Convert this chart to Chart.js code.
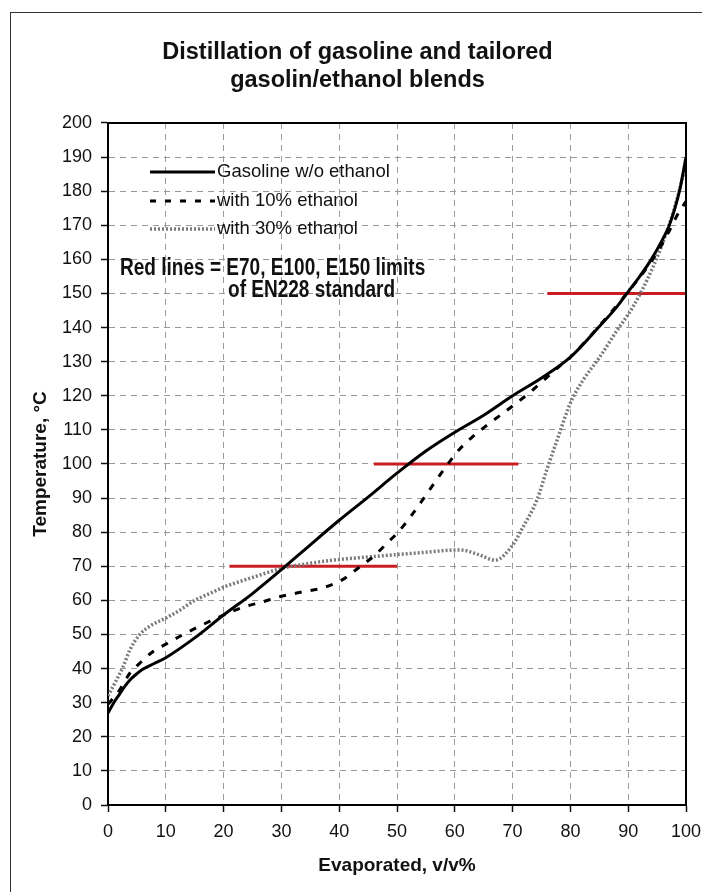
<!DOCTYPE html>
<html>
<head>
<meta charset="utf-8">
<script src="https://cdn.jsdelivr.net/npm/chart.js@4"></script>
<style>
    html, body { margin: 0; padding: 0; background: #fff; overflow: hidden; }
    #frame { position: absolute; left: 10px; top: 12px; width: 800px; height: 1000px; border: 1.5px solid #333; }
    #chart { position: absolute; left: 0; top: 0; }
</style>
</head>
<body>
<div id="frame"></div>
<canvas id="chart" width="702" height="892"></canvas>
<script>
// Gasoline without ethanol
const evapGasoline = [0, 1, 2, 3, 4, 5, 6, 8, 10, 15, 20, 25, 30, 35, 40, 45, 50, 55, 60, 65, 70, 75, 80, 85, 88, 90, 92, 94, 96, 97, 98, 99, 100];
const tempGasoline = [27, 30, 32.5, 35, 37, 38.5, 39.8, 41.5, 43.2, 49, 55.7, 62, 69, 76.3, 83.5, 90.3, 97.3, 103.8, 109.3, 114.3, 120, 125.2, 131.3, 140.3, 146, 150.5, 155, 160, 166, 169.5, 174.5, 181, 190];

// with 10% ethanol
const evapE10 = [0, 2, 3.8, 5.5, 7.8, 10.4, 13, 16.3, 18.8, 23.4, 26.6, 30, 33.7, 37, 40.5, 43.3, 46, 48.3, 50.5, 52.8, 56.2, 58.3, 60.4, 63, 65.6, 70, 73, 76, 78, 80, 85, 90, 93, 95, 97, 98.5, 100];
const tempE10 = [29.5, 33.7, 38.7, 41.6, 45, 47.5, 50, 52.8, 54.8, 58, 59.5, 61.2, 62.5, 63.6, 66, 69.5, 73, 76.8, 80.6, 85.6, 93.8, 98.8, 103.5, 107.9, 111.4, 117, 121, 125.5, 128.5, 131.3, 140.5, 150.5, 157, 162, 168, 173, 177];

// with 30% ethanol
const evapE30 = [0, 1.2, 2.6, 3.8, 5.5, 7.3, 10.2, 12.5, 15, 17.6, 20.2, 24.6, 30.3, 33.2, 39, 44.8, 53.5, 60.9, 64, 67, 70, 71.8, 74.2, 75.9, 77.9, 80, 82.2, 85.1, 88, 90.8, 94.3, 97.2, 98.5, 100];
const tempE30 = [32, 35.8, 40.5, 45.5, 50, 52.5, 55, 57.2, 60, 62, 64, 66.5, 69.5, 70.4, 71.8, 72.7, 73.9, 74.8, 73.5, 71.8, 76.2, 81.5, 89.4, 98.2, 108, 117.9, 124.6, 131.4, 139, 146, 157.8, 170.7, 178, 188];

// EN228 limits (red lines)
const limitTemps = [70, 100, 150];
const limitFrom = [21, 46, 76];
const limitTo = [50, 71, 100];

const xTicks = [0, 10, 20, 30, 40, 50, 60, 70, 80, 90, 100];
const yTicks = [];
for (let t = 0; t <= 200; t += 10) yTicks.push(t);

const titleLines = ['Distillation of gasoline and tailored', 'gasolin/ethanol blends'];
const legendLabels = ['Gasoline w/o ethanol', 'with 10% ethanol', 'with 30% ethanol'];
const noteLines = ['Red lines = E70, E100, E150 limits', 'of EN228 standard'];

const toPoints = (xs, ys) => xs.map((x, i) => ({ x: x, y: ys[i] }));

const SANS = "'Liberation Sans', Arial, sans-serif";

const lineStyles = [
    { color: '#000', width: 3, dash: [] },
    { color: '#000', width: 3, dash: [7, 9] },
    { color: '#7a7a7a', width: 3.5, dash: [2, 2] }
];

const datasets = [
    { data: toPoints(evapGasoline, tempGasoline) },
    { data: toPoints(evapE10, tempE10) },
    { data: toPoints(evapE30, tempE30) }
].map((d, i) => Object.assign(d, {
    label: legendLabels[i],
    borderColor: lineStyles[i].color,
    borderWidth: lineStyles[i].width,
    borderDash: lineStyles[i].dash,
    pointRadius: 0,
    cubicInterpolationMode: 'monotone',
    fill: false
}));

limitTemps.forEach((t, i) => {
    datasets.push({
        label: 'E' + t,
        data: [{ x: limitFrom[i], y: t }, { x: limitTo[i], y: t }],
        borderColor: 'rgb(200, 30, 35)',
        borderWidth: 3,
        pointRadius: 0,
        fill: false
    });
});

// top and right border of the plot area
const plotFrame = {
    id: 'plotFrame',
    afterDraw(chart) {
        const { ctx, chartArea: a } = chart;
        ctx.save();
        ctx.strokeStyle = '#000';
        ctx.lineWidth = 2;
        ctx.beginPath();
        ctx.moveTo(a.left, a.top);
        ctx.lineTo(a.right, a.top);
        ctx.lineTo(a.right, a.bottom);
        ctx.stroke();
        ctx.restore();
    }
};

// legend and note drawn inside the plot
const innerLegend = {
    id: 'innerLegend',
    afterDraw(chart) {
        const ctx = chart.ctx;
        const rows = [172, 201, 229];
        ctx.save();
        rows.forEach((y, i) => {
            const s = lineStyles[i];
            ctx.strokeStyle = s.color;
            ctx.lineWidth = s.width;
            ctx.setLineDash(i === 1 ? [6, 9] : s.dash);
            ctx.beginPath();
            ctx.moveTo(150, y);
            ctx.lineTo(215, y);
            ctx.stroke();
            ctx.setLineDash([]);
            ctx.fillStyle = '#111';
            ctx.font = '18.5px ' + SANS;
            ctx.textBaseline = 'middle';
            ctx.textAlign = 'left';
            ctx.fillText(legendLabels[i], 217, y);
        });
        // condensed bold note
        ctx.font = 'bold 23.5px ' + SANS;
        ctx.scale(0.81, 1);
        ctx.fillText(noteLines[0], 120 / 0.81, 269);
        ctx.fillText(noteLines[1], 228 / 0.81, 291);
        ctx.restore();
    }
};

new Chart(document.getElementById('chart'), {
    type: 'line',
    data: { datasets: datasets },
    plugins: [plotFrame, innerLegend],
    options: {
        responsive: false,
        animation: false,
        devicePixelRatio: 1,
        layout: { padding: { left: 29, right: 16, top: 0, bottom: 0 } },
        plugins: {
            legend: { display: false },
            tooltip: { enabled: false },
            title: {
                display: true,
                text: titleLines,
                color: '#111',
                font: { family: SANS, size: 23.5, weight: 'bold', lineHeight: 1.22 },
                padding: { top: 38, bottom: 27.6 }
            }
        },
        scales: {
            x: {
                type: 'linear',
                min: 0,
                max: 100,
                afterFit: s => { s.height = 87; s.paddingLeft = 0; s.paddingRight = 0; },
                afterBuildTicks: s => { s.ticks = xTicks.map(v => ({ value: v })); },
                ticks: { color: '#111', padding: 9, font: { family: SANS, size: 18 } },
                grid: { color: '#9a9a9a', lineWidth: 1, tickColor: '#111', tickWidth: 1.5, tickLength: 7 },
                border: { color: '#000', width: 2, dash: [6, 5] },
                title: {
                    display: true,
                    text: 'Evaporated, v/v%',
                    color: '#111',
                    font: { family: SANS, size: 19, weight: 'bold' },
                    padding: { top: 0, bottom: 15 }
                }
            },
            y: {
                min: 0,
                max: 200,
                afterFit: s => { s.width = 79; },
                afterBuildTicks: s => { s.ticks = yTicks.map(v => ({ value: v })); },
                ticks: { color: '#111', padding: 9, font: { family: SANS, size: 18 } },
                grid: { color: '#9a9a9a', lineWidth: 1, tickColor: '#111', tickWidth: 1.5, tickLength: 7 },
                border: { color: '#000', width: 2, dash: [6, 5] },
                title: {
                    display: true,
                    text: 'Temperature, °C',
                    color: '#111',
                    font: { family: SANS, size: 19, weight: 'bold' },
                    padding: { top: 0, bottom: 0 }
                }
            }
        }
    }
});
</script>
</body>
</html>
